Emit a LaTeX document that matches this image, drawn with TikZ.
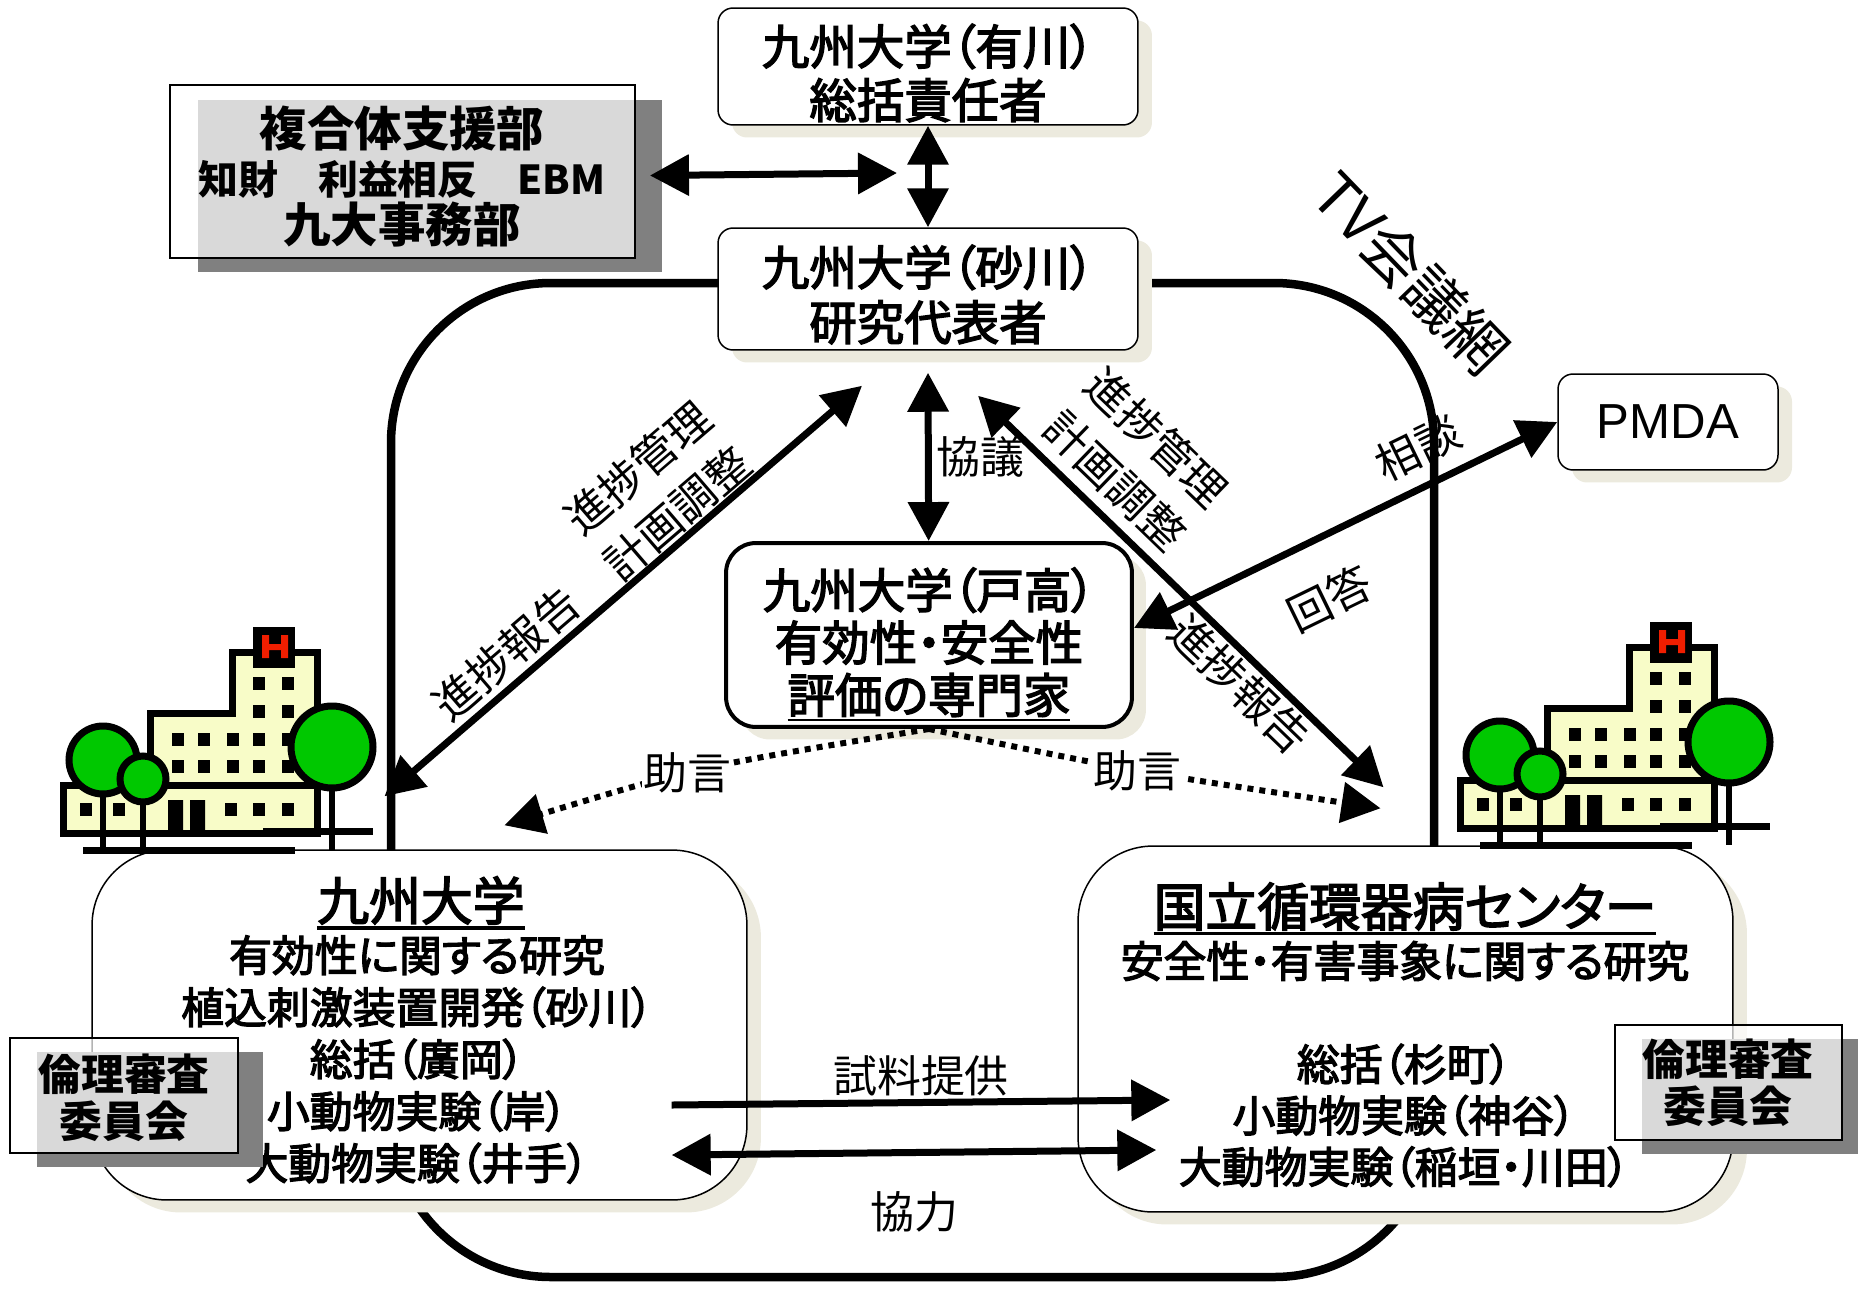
\documentclass[tikz,border=0pt]{standalone}
\usepackage{fontspec}
\setmainfont{Liberation Sans}
\newfontfamily\jp[RawFeature=+palt]{Noto Sans CJK JP}
\newfontfamily\jpm[RawFeature=+palt, FakeBold=3]{Noto Sans CJK JP}
\usetikzlibrary{arrows.meta,calc,shadows}

\definecolor{shade}{RGB}{236,234,222}
\definecolor{bldg}{RGB}{248,252,200}
\definecolor{leaf}{RGB}{0,200,0}
\definecolor{hred}{RGB}{240,30,0}
\definecolor{greyshadow}{RGB}{128,128,128}

% underline used in the box titles
\newcommand{\uln}[1]{\setbox0\hbox{#1}\rlap{\rule[-0.18em]{\wd0}{0.06em}}\box0}
\newcommand{\fsz}[2]{\fontsize{#1}{#2}\selectfont}

\tikzset{
  rbox/.style={draw, fill=white, line width=0.03cm, rounded corners=0.3cm, inner sep=0pt,
    drop shadow={shadow xshift=0.28cm, shadow yshift=-0.25cm, fill=shade, opacity=1}},
  bigbox/.style={rbox, rounded corners=1.5cm},
  greybox/.style={draw, line width=0.04cm, fill=white, fill opacity=0.7, text opacity=1, inner sep=0pt},
  boxtext/.style={font=\jpm\fsz{27}{30.6}, align=center, inner sep=0pt},
  lbl/.style={font=\jp\fsz{25}{34}, align=center, inner sep=0pt},
  link/.style={line width=0.14cm},
  advice/.style={line width=0.12cm, dash pattern=on 0.12cm off 0.12cm},
  ink/.style={line width=0.14cm},
  hospital/.pic={
    \draw[ink, fill=bldg] (-190,206) -- (-190,158) -- (-103,158) -- (-103,86)
      -- (-21,86) -- (-21,25) -- (64,25) -- (64,206) -- cycle;
    \draw[ink] (-190,158) -- (64,158);
    % sign on the roof
    \fill (0,0) rectangle (42,41);
    \fill[hred] (9,8) rectangle (16,31) (28,8) rectangle (35,31) (9,17) rectangle (35,23);
    % windows and doors
    \foreach \wx in {0,29} \foreach \wy in {50,78} \fill (\wx,\wy) rectangle +(12,13);
    \foreach \wx in {-81,-55,-26,0,29} \foreach \wy in {106,133} \fill (\wx,\wy) rectangle +(12,13);
    \foreach \wx in {-173,-140,-28,0,29} \fill (\wx,176) rectangle +(12,13);
    \fill (-85,173) rectangle (-70,206) (-63,173) rectangle (-48,206);
    % trees
    \draw[line width=0.12cm] (79,150) -- (79,223) (-150,160) -- (-150,223) (-110,170) -- (-110,223);
    \draw[ink, fill=leaf] (79,120) circle[radius=41];
    \draw[ink, fill=leaf] (-150,133) circle[radius=34];
    \draw[ink, fill=leaf] (-110,152) circle[radius=23];
    % ground
    \draw[ink] (-170,223) -- (42,223) (10,204) -- (120,204);
  }
}

\begin{document}
\begin{tikzpicture}[x=0.02cm, y=-0.02cm, >={Triangle[length=0.78cm,width=0.8cm]}]
\useasboundingbox (0,0) rectangle (1858,1288);

% TV conference loop
\draw[line width=0.17cm, rounded corners=3.2cm] (391,283) rectangle (1434,1277);

% boxes
\node[rbox, minimum width=8.4cm, minimum height=2.34cm] (chief) at (928,66.5) {};
\node[rbox, minimum width=8.4cm, minimum height=2.44cm] (pi) at (928,289) {};
\node[rbox, line width=0.08cm, rounded corners=0.6cm, minimum width=8.12cm, minimum height=3.68cm] (expert) at (929,635) {};
\node[rbox, minimum width=4.4cm, minimum height=1.92cm, font=\fsz{28}{30}] (pmda) at (1668,422) {PMDA};
\node[bigbox, minimum width=13.1cm, minimum height=7cm] (kyudai) at (419.5,1025) {};
\node[bigbox, minimum width=13.1cm, minimum height=7.32cm] (ncvc) at (1405.5,1029) {};

\node[boxtext] (chiefText) at (928,73) {九州大学（有川）\\総括責任者};
\node[boxtext, font=\jpm\fsz{27}{31.2}] (piText) at (928,294.5) {九州大学（砂川）\\研究代表者};
\node[boxtext, font=\jpm\fsz{27}{29.8}] (expertText) at (929,644.5) {九州大学（戸高）\\有効性・安全性\\\uln{評価の専門家}};

\node[font=\jpm\fsz{29.5}{30}, inner sep=0pt] (kyudaiTitle) at (421,903) {\uln{九州大学}};
\node[font=\jpm\fsz{24.4}{29.6}, align=center, inner sep=0pt] (kyudaiBody) at (417,1059.5)
  {有効性に関する研究\\植込刺激装置開発（砂川）\\総括（廣岡）\\小動物実験（岸）\\大動物実験（井手）};
\node[font=\jpm\fsz{29.5}{30}, inner sep=0pt] (ncvcTitle) at (1405,909) {\uln{国立循環器病センター}};
\node[font=\jpm\fsz{24.4}{29.6}, inner sep=0pt] (ncvcSub) at (1405,961) {安全性・有害事象に関する研究};
\node[font=\jpm\fsz{24.4}{29.2}, align=center, inner sep=0pt] (ncvcBody) at (1404,1115.5)
  {総括（杉町）\\小動物実験（神谷）\\大動物実験（稲垣・川田）};

% support office
\fill[greyshadow] (198,100) rectangle (662,272);
\node[greybox, minimum width=9.3cm, minimum height=3.46cm] (support) at (402.5,171.5) {};
\node[font=\jp\bfseries\fsz{27}{27.5}, align=center, inner sep=0pt] (supportText) at (402,176.5)
  {複合体支援部\\{\fsz{22.7}{27.5}知財　利益相反　EBM}\\九大事務部};

% connectors
\coordinate (hub) at (897,173);
\draw[link,<->] (chief) -- (pi);
\draw[link,<->] ($(support.east)+(14,4)$) -- (hub);
\draw[link,<->] ($(pi.south)+(0,22)$) -- node[lbl, right=0.1cm] (talk) {協議} (expert);
\draw[link,<->] ($(kyudai.north)+(-35,-53)$)
  -- node[lbl, sloped, above=0.1cm, pos=0.294] (reportL) {進捗報告}
     node[lbl, sloped, above=0pt, pos=0.645] (manageL) {進捗管理\\計画調整}
  ($(pi.south)+(-66,35)$);
\draw[link,<->] ($(pi.south)+(50,45)$)
  -- node[lbl, sloped, above=0.2cm, pos=0.28] (manageR) {進捗管理\\計画調整}
     node[lbl, sloped, below=0.04cm, pos=0.69] (reportR) {進捗報告}
  ($(ncvc.north)+(-22,-58)$);
\draw[link,<->] ($(expert.east)+(0,-7)$)
  -- node[lbl, sloped, below=0.7cm, pos=0.40] (answer) {回答}
     node[lbl, sloped, above=0.28cm, pos=0.71] (ask) {相談}
  (pmda.west);
\draw[advice,->] (expert.south) .. controls (694.5,767.5) ..
  node[lbl, pos=0.54, fill=white, inner sep=1pt] (adviceL) {助言} ($(kyudai.north)+(85,-24)$);
\draw[advice,->] (expert.south) .. controls (1132,771) ..
  node[lbl, pos=0.5, fill=white, inner sep=1pt] (adviceR) {助言} ($(ncvc.north)+(-25,-37)$);
\draw[link,->] ($(kyudai.east)+(-76,80)$) -- node[lbl, above=0.06cm] (sample) {試料提供} ($(ncvc.west)+(93,71)$);
\draw[link,<->] ($(kyudai.east)+(-76,130)$) -- node[lbl, below=0.72cm] (coop) {協力} ($(ncvc.west)+(79,121)$);

% hospitals
\pic (hospL) at (253,627) {hospital};
\pic (hospR) at (1650,622) {hospital};

% ethics committees
\fill[greyshadow] (37,1052) rectangle (263,1167);
\node[greybox, minimum width=4.56cm, minimum height=2.3cm] (ethicsL) at (124,1095.5) {};
\node[font=\jp\bfseries\fsz{24.4}{26.6}, align=center, inner sep=0pt] (ethicsLText) at (124,1097.5) {倫理審査\\委員会};

\fill[greyshadow] (1642,1039) rectangle (1869,1154);
\node[greybox, minimum width=4.54cm, minimum height=2.3cm] (ethicsR) at (1728.5,1082.5) {};
\node[font=\jp\bfseries\fsz{24.4}{26.6}, align=center, inner sep=0pt] (ethicsRText) at (1728,1083) {倫理審査\\委員会};

\node[font=\jp\fsz{34}{34}, rotate=-46, inner sep=0pt] (tvnet) at (1411,273) {TV会議網};
\end{tikzpicture}
\end{document}
